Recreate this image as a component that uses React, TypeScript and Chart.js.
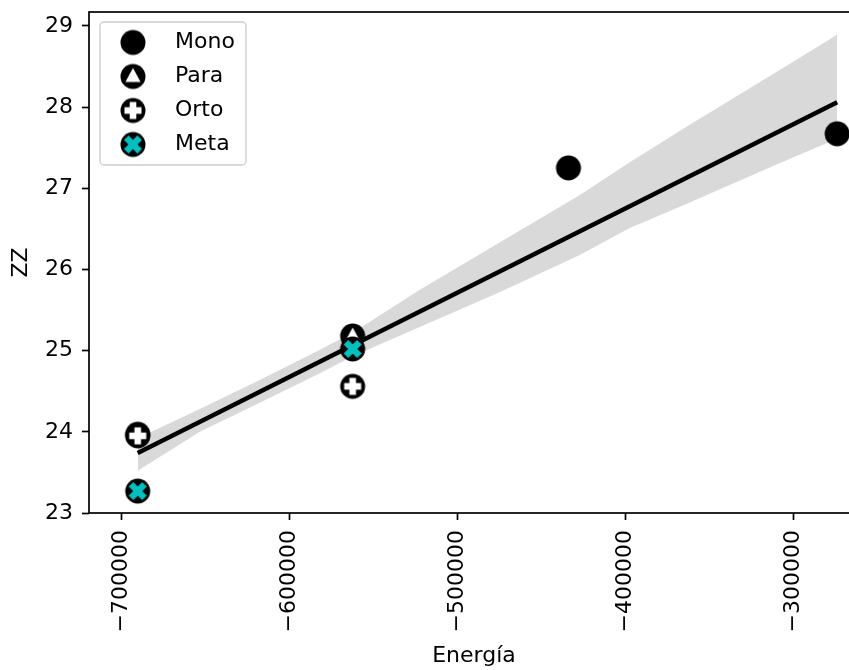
import React, { useEffect, useRef } from 'react';
import { Chart, registerables } from 'chart.js';

Chart.register(...registerables);

// ---- data ----
const SERIES_NAMES = ['Mono', 'Para', 'Orto', 'Meta'];
const MONO_X = [-434000, -274000];
const MONO_Y = [27.25, 27.67];
const PARA_X = [-690500, -562500];
const PARA_Y = [23.97, 25.18];
const ORTO_X = [-690500, -562500];
const ORTO_Y = [23.95, 24.56];
const META_X = [-690500, -562500];
const META_Y = [23.27, 25.02];

// confidence band
const BAND_X = [-690500, -653500, -617500, -582000, -562500, -522500, -475000, -427000, -397500, -363500, -308000, -274000];
const BAND_UPPER = [23.92, 24.28, 24.64, 25.01, 25.22, 25.75, 26.33, 26.92, 27.32, 27.76, 28.46, 28.89];
const BAND_LOWER = [23.52, 24.0, 24.36, 24.72, 24.93, 25.29, 25.72, 26.18, 26.51, 26.81, 27.31, 27.61];

const X_TICKS = [-700000, -600000, -500000, -400000, -300000];
const Y_TICKS = [23, 24, 25, 26, 27, 28, 29];
const X_MIN = -719500;
const X_MAX = -261000;
const Y_MIN = 23;
const Y_MAX = 29.17;

const X_TITLE = 'Energía';
const Y_TITLE = 'ZZ';

const FONT = 'DejaVu Sans';
const FS = 22;
const META_COLOR = '#00bfbf';

function makeMarker(kind: string): HTMLCanvasElement {
  const c = document.createElement('canvas');
  c.width = 28;
  c.height = 28;
  const g = c.getContext('2d') as CanvasRenderingContext2D;
  g.translate(14, 14);
  g.fillStyle = '#000';
  g.beginPath();
  g.arc(0, 0, 12.5, 0, Math.PI * 2);
  g.fill();
  if (kind === 'Para') {
    g.fillStyle = '#fff';
    g.beginPath();
    g.moveTo(0, -8.5);
    g.lineTo(7.6, 5.6);
    g.lineTo(-7.6, 5.6);
    g.closePath();
    g.fill();
  } else if (kind === 'Orto') {
    g.fillStyle = '#fff';
    g.fillRect(-8.5, -3.3, 17, 6.6);
    g.fillRect(-3.3, -8.5, 6.6, 17);
  } else if (kind === 'Meta') {
    g.fillStyle = META_COLOR;
    g.save();
    g.rotate(Math.PI / 4);
    g.fillRect(-9.5, -3.3, 19, 6.6);
    g.fillRect(-3.3, -9.5, 6.6, 19);
    g.restore();
  }
  return c;
}

function pts(xs: number[], ys: number[]) {
  return xs.map((x, i) => ({ x, y: ys[i] }));
}

function fitLine() {
  const xs = [...MONO_X, ...PARA_X, ...ORTO_X, ...META_X];
  const ys = [...MONO_Y, ...PARA_Y, ...ORTO_Y, ...META_Y];
  const n = xs.length;
  const mx = xs.reduce((a, b) => a + b, 0) / n;
  const my = ys.reduce((a, b) => a + b, 0) / n;
  let sxx = 0;
  let sxy = 0;
  for (let i = 0; i < n; i++) {
    sxx += (xs[i] - mx) * (xs[i] - mx);
    sxy += (xs[i] - mx) * (ys[i] - my);
  }
  const b = sxy / sxx;
  const a = my - b * mx;
  const x0 = Math.min(...xs);
  const x1 = Math.max(...xs);
  return [
    { x: x0, y: a + b * x0 },
    { x: x1, y: a + b * x1 },
  ];
}

function zeroPad(scale: any) {
  scale.paddingTop = 0;
  scale.paddingBottom = 0;
  scale.paddingLeft = 0;
  scale.paddingRight = 0;
}

export default function App() {
  const ref = useRef<HTMLCanvasElement | null>(null);

  useEffect(() => {
    if (!ref.current) return;
    Chart.defaults.font.family = FONT;
    Chart.defaults.color = '#000';

    const markers: Record<string, HTMLCanvasElement> = {};
    SERIES_NAMES.forEach((n) => (markers[n] = makeMarker(n)));
    const seriesData: Record<string, { x: number; y: number }[]> = {
      Mono: pts(MONO_X, MONO_Y),
      Para: pts(PARA_X, PARA_Y),
      Orto: pts(ORTO_X, ORTO_Y),
      Meta: pts(META_X, META_Y),
    };

    const framePlugin = {
      id: 'frameAndLegend',
      beforeDatasetsDraw(chart: any) {
        const { ctx, chartArea: a } = chart;
        ctx.save();
        ctx.strokeStyle = '#000';
        ctx.lineWidth = 1.7;
        ctx.strokeRect(a.left, a.top, a.right - a.left, a.bottom - a.top);
        ctx.restore();
      },
      afterDraw(chart: any) {
        const { ctx, chartArea: a } = chart;
        const left = a.left + 11;
        const top = a.top + 10;
        const w = 146;
        const h = 143;
        ctx.save();
        ctx.beginPath();
        if ((ctx as any).roundRect) (ctx as any).roundRect(left, top, w, h, 4);
        else ctx.rect(left, top, w, h);
        ctx.fillStyle = 'rgba(255,255,255,0.8)';
        ctx.fill();
        ctx.strokeStyle = '#cccccc';
        ctx.lineWidth = 1.3;
        ctx.stroke();
        ctx.font = `${FS}px "${FONT}"`;
        ctx.fillStyle = '#000';
        ctx.textBaseline = 'middle';
        ctx.textAlign = 'left';
        SERIES_NAMES.forEach((n, i) => {
          const cy = top + 20.5 + i * 34;
          const m = markers[n];
          ctx.drawImage(m, left + 33 - m.width / 2, cy - m.height / 2);
          ctx.fillText(n, left + 75, cy);
        });
        ctx.restore();
      },
    };

    const chart = new Chart(ref.current, {
      type: 'scatter',
      data: {
        datasets: [
          {
            label: 'band_upper',
            data: pts(BAND_X, BAND_UPPER),
            showLine: true,
            borderWidth: 0,
            pointRadius: 0,
            backgroundColor: '#d9d9d9',
            fill: '+1',
            tension: 0,
            order: 20,
          } as any,
          {
            label: 'band_lower',
            data: pts(BAND_X, BAND_LOWER),
            showLine: true,
            borderWidth: 0,
            pointRadius: 0,
            fill: false,
            tension: 0,
            order: 19,
          } as any,
          {
            label: 'fit',
            data: fitLine(),
            showLine: true,
            borderColor: '#000',
            borderWidth: 4.5,
            pointRadius: 0,
            fill: false,
            order: 10,
          } as any,
          ...SERIES_NAMES.map((n, i) => ({
            label: n,
            data: seriesData[n],
            pointStyle: markers[n],
            pointRadius: 12,
            clip: false,
            order: 4 - i,
          })) as any,
        ],
      },
      options: {
        animation: false,
        responsive: false,
        devicePixelRatio: 1,
        events: [],
        layout: { autoPadding: false, padding: { left: 0, top: 12, right: 1, bottom: 0 } },
        plugins: {
          legend: { display: false },
          tooltip: { enabled: false },
        },
        scales: {
          x: {
            type: 'linear',
            min: X_MIN,
            max: X_MAX,
            afterFit(scale: any) {
              scale.height = 157;
              zeroPad(scale);
            },
            afterBuildTicks(scale: any) {
              scale.ticks = X_TICKS.map((v) => ({ value: v }));
            },
            ticks: {
              stepSize: 100000,
              includeBounds: false,
              autoSkip: false,
              minRotation: 90,
              maxRotation: 90,
              padding: 10,
              font: { size: FS },
              color: '#000',
              callback: (v: any) => (Number(v) < 0 ? '\u2212' : '') + Math.abs(Number(v)),
            },
            grid: {
              display: true,
              drawOnChartArea: false,
              drawTicks: true,
              tickLength: 7,
              tickWidth: 1.7,
              tickColor: '#000',
            },
            border: { display: false },
            title: {
              display: true,
              text: X_TITLE,
              font: { size: FS },
              color: '#000',
              padding: { top: 0, bottom: 1 },
            },
          },
          y: {
            type: 'linear',
            min: Y_MIN,
            max: Y_MAX,
            afterFit(scale: any) {
              scale.width = 89;
              zeroPad(scale);
            },
            afterBuildTicks(scale: any) {
              scale.ticks = Y_TICKS.map((v) => ({ value: v }));
            },
            ticks: {
              stepSize: 1,
              includeBounds: false,
              autoSkip: false,
              padding: 9,
              font: { size: FS },
              color: '#000',
              callback: (v: any) => String(v),
            },
            grid: {
              display: true,
              drawOnChartArea: false,
              drawTicks: true,
              tickLength: 7,
              tickWidth: 1.7,
              tickColor: '#000',
            },
            border: { display: false },
            title: {
              display: true,
              text: Y_TITLE,
              font: { size: FS },
              color: '#000',
              padding: { top: 8, bottom: 0 },
            },
          },
        },
      } as any,
      plugins: [framePlugin],
    });

    return () => chart.destroy();
  }, []);

  return (
    <div style={{ position: 'absolute', left: 0, top: 0, width: 849, height: 670, overflow: 'hidden' }}>
      <canvas ref={ref} width={860} height={670} style={{ display: 'block' }} />
    </div>
  );
}
